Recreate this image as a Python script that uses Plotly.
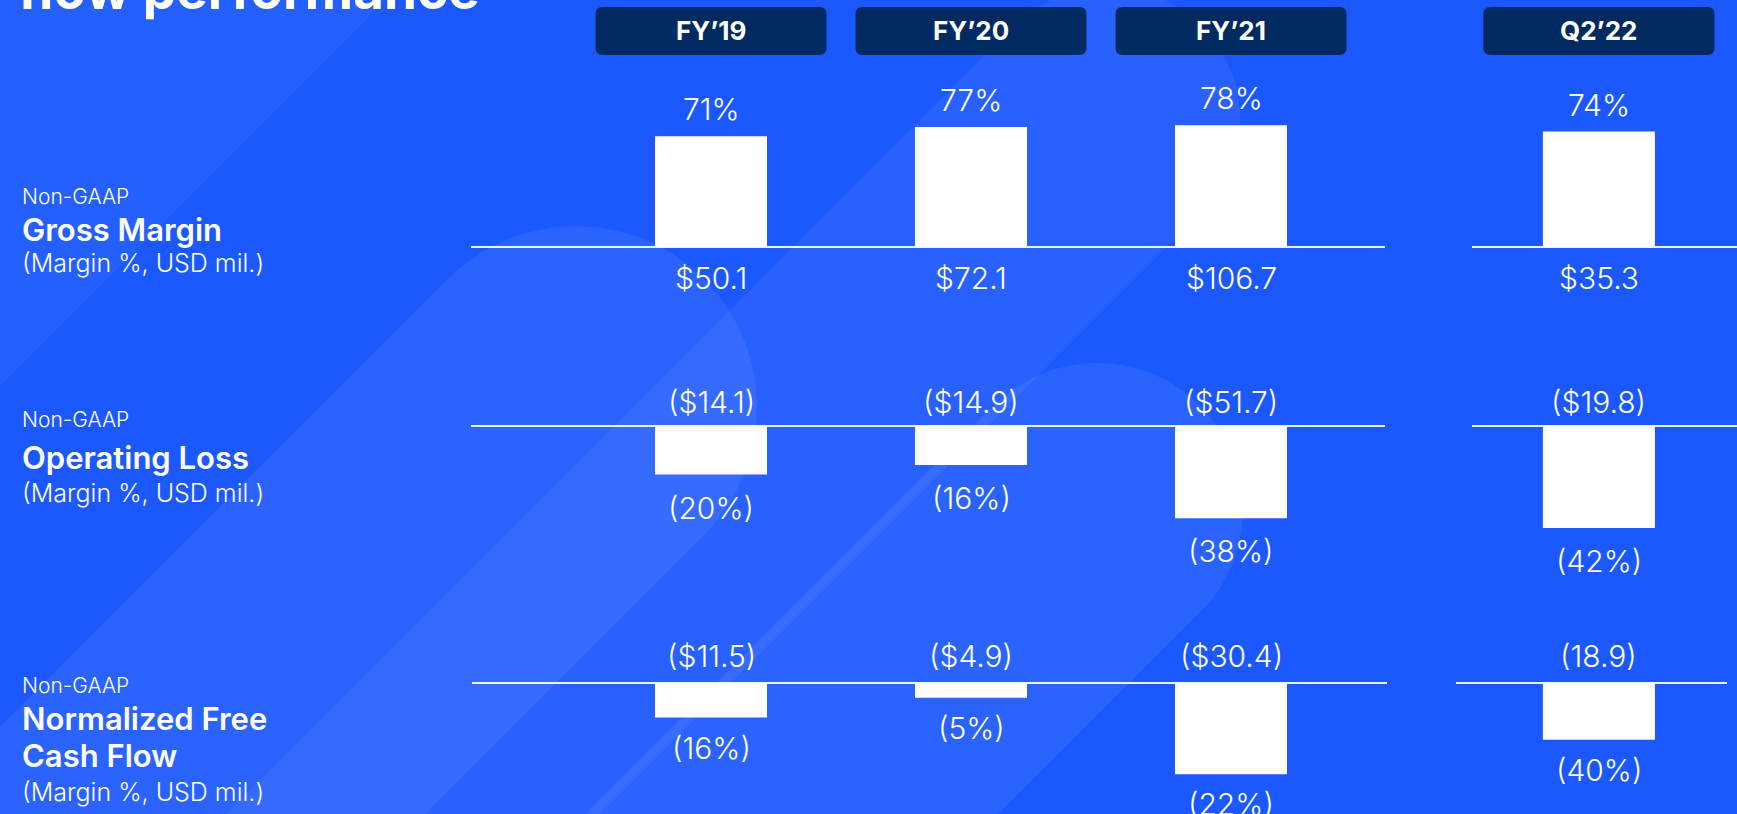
import numpy as np
import plotly.graph_objects as go

W, H = 1737, 814

# ---- data -------------------------------------------------------------
periods = ["FY’19", "FY’20", "FY’21", "Q2’22"]

gross_margin_pct = [71, 77, 78, 74]
gross_profit_usd = [50.1, 72.1, 106.7, 35.3]

op_loss_usd = [14.1, 14.9, 51.7, 19.8]
op_loss_pct = [20, 16, 38, 42]

fcf_usd = [11.5, 4.9, 30.4, 18.9]
fcf_pct = [16, 5, 22, 40]
fcf_currency = ["$", "$", "$", ""]

# ---- layout constants -------------------------------------------------
x_pos = [0, 1, 2, 3.415]          # slot of each period on the x axis
X_ORIGIN_PX, X_UNIT_PX = 711, 260  # pixel of x=0, pixels per x unit
BAR_W = 112 / X_UNIT_PX
BOX_W = 231 / X_UNIT_PX

BG = "#1b58ff"
NAVY = "#012a61"
WHITE = "#ffffff"
FONT = "Inter"


def px_to_paper(x, y):
    return x / W, 1 - y / H


def yrange(base_px, px_per_unit):
    return [-(H - base_px) / px_per_unit, base_px / px_per_unit]


# each metric row: its own y axis with zero on the row's baseline
rows = {
    "gm": dict(axis="y", base=247, scale=1.56),
    "ol": dict(axis="y2", base=426, scale=2.43),
    "fcf": dict(axis="y3", base=683, scale=3.0),
}

fig = go.Figure()

bar_style = dict(marker=dict(color=WHITE, line=dict(width=0)), width=BAR_W,
                 hoverinfo="skip", showlegend=False)

fig.add_trace(go.Bar(x=x_pos, y=gross_margin_pct, yaxis="y", **bar_style))
fig.add_trace(go.Bar(x=x_pos, y=[-v for v in op_loss_pct], yaxis="y2", **bar_style))
fig.add_trace(go.Bar(x=x_pos, y=[-v for v in fcf_usd], yaxis="y3", **bar_style))

annotations = []
num_font = dict(family=FONT, size=30, color=WHITE, weight=300)


def value_label(x, y, yref, text, shift):
    annotations.append(dict(x=x, y=y, xref="x", yref=yref, text=text,
                            showarrow=False, xanchor="center", yanchor="middle",
                            yshift=shift, font=num_font))


for i, x in enumerate(x_pos):
    # gross margin: % above the bar, dollars under the baseline
    value_label(x, gross_margin_pct[i], "y", f"{gross_margin_pct[i]}%", 27)
    value_label(x, 0, "y", f"${gross_profit_usd[i]:.1f}", -31)
    # operating loss: dollars above the baseline, % under the bar
    value_label(x, 0, "y2", f"(${op_loss_usd[i]:.1f})", 24)
    value_label(x, -op_loss_pct[i], "y2", f"({op_loss_pct[i]}%)", -33)
    # free cash flow
    value_label(x, 0, "y3", f"({fcf_currency[i]}{fcf_usd[i]:.1f})", 27)
    value_label(x, -fcf_usd[i], "y3", f"({fcf_pct[i]}%)", -30)

# ---- period header boxes ---------------------------------------------
shapes = []


def rounded_rect(x0, x1, y0, y1, rx, ry):
    return (f"M {x0 + rx},{y0} L {x1 - rx},{y0} Q {x1},{y0} {x1},{y0 + ry} "
            f"L {x1},{y1 - ry} Q {x1},{y1} {x1 - rx},{y1} L {x0 + rx},{y1} "
            f"Q {x0},{y1} {x0},{y1 - ry} L {x0},{y0 + ry} Q {x0},{y0} {x0 + rx},{y0} Z")


box_top, box_bot = 1 - 7 / H, 1 - 55 / H
for x, label in zip(x_pos, periods):
    shapes.append(dict(type="path", xref="x", yref="paper", layer="above",
                       path=rounded_rect(x - BOX_W / 2, x + BOX_W / 2, box_bot, box_top,
                                         7 / X_UNIT_PX, 7 / H),
                       fillcolor=NAVY, line=dict(width=0)))
    annotations.append(dict(x=x, y=1 - 31 / H, xref="x", yref="paper", text=f"<b>{label}</b>",
                            showarrow=False, xanchor="center", yanchor="middle",
                            font=dict(family=FONT, size=26, color=WHITE, weight=700)))

# ---- baselines ---------------------------------------------------------
baseline_segments = {
    "y": [(471, 1385), (1472, 1737)],
    "y2": [(471, 1385), (1472, 1737)],
    "y3": [(472, 1387), (1456, 1727)],
}
for yref, segs in baseline_segments.items():
    for a, b in segs:
        shapes.append(dict(type="line", xref="paper", yref=yref, x0=a / W, x1=b / W,
                           y0=0, y1=0, layer="below",
                           line=dict(color="rgba(255,255,255,0.92)", width=2)))

# ---- decorative light strokes in the background -----------------------


def capsule(cx, cy, r, length=1800, n=40):
    d = np.array([-1.0, 1.0]) / np.sqrt(2)      # runs down-left
    nrm = np.array([1.0, 1.0]) / np.sqrt(2)
    ang0 = np.arctan2(nrm[1], nrm[0])
    angs = np.linspace(ang0, ang0 - np.pi, n)    # cap facing up-right
    pts = [(cx + r * np.cos(a), cy + r * np.sin(a)) for a in angs]
    end = np.array([cx, cy]) + length * d
    pts.append(tuple(end - r * nrm))
    pts.append(tuple(end + r * nrm))
    p = [px_to_paper(x, y) for x, y in pts]
    return "M " + " L ".join(f"{x:.5f},{y:.5f}" for x, y in p) + " Z"


deco = [
    (capsule(576, 407, 181), 0.065),
    (capsule(1097, 509, 146), 0.07),
    (capsule(1108, 119, 132), 0.06),
]
tri = [px_to_paper(0, 0), px_to_paper(386, 0), px_to_paper(0, 386)]
deco.append(("M " + " L ".join(f"{x:.5f},{y:.5f}" for x, y in tri) + " Z", 0.045))
for path, op in deco:
    shapes.insert(0, dict(type="path", xref="paper", yref="paper", layer="below",
                          path=path, fillcolor=WHITE, opacity=op, line=dict(width=0)))

# ---- row titles on the left -------------------------------------------
light = dict(family=FONT, color=WHITE, weight=300)
bold = dict(family=FONT, color=WHITE, weight=600)
row_titles = [
    ("Non-GAAP", 196, 21, light), ("Gross Margin", 229, 31, bold),
    ("(Margin %, USD mil.)", 263, 25, light),
    ("Non-GAAP", 419, 21, light), ("Operating Loss", 457, 31, bold),
    ("(Margin %, USD mil.)", 493, 25, light),
    ("Non-GAAP", 685, 21, light), ("Normalized Free", 718, 31, bold),
    ("Cash Flow", 755, 31, bold), ("(Margin %, USD mil.)", 792, 25, light),
]
for text, ypx, size, f in row_titles:
    annotations.append(dict(x=20 / W, y=1 - ypx / H, xref="paper", yref="paper", text=text,
                            showarrow=False, xanchor="left", yanchor="middle",
                            font=dict(size=size, **f)))

# slide heading (last line, running off the top edge)
annotations.append(dict(x=16 / W, y=1 - 24 / H, xref="paper", yref="paper",
                        text="<b>flow performance</b>", showarrow=False,
                        xanchor="left", yanchor="bottom",
                        font=dict(family=FONT, size=53, color=WHITE, weight=700)))

x_range = [-X_ORIGIN_PX / X_UNIT_PX, (W - X_ORIGIN_PX) / X_UNIT_PX]
hidden = dict(visible=False, showgrid=False, zeroline=False, fixedrange=True)

fig.update_layout(
    width=W, height=H,
    margin=dict(l=0, r=0, t=0, b=0),
    paper_bgcolor=BG, plot_bgcolor=BG,
    barmode="overlay",
    showlegend=False, hovermode=False,
    xaxis=dict(range=x_range, domain=[0, 1], **hidden),
    yaxis=dict(range=yrange(rows["gm"]["base"], rows["gm"]["scale"]), domain=[0, 1], **hidden),
    yaxis2=dict(range=yrange(rows["ol"]["base"], rows["ol"]["scale"]), overlaying="y", **hidden),
    yaxis3=dict(range=yrange(rows["fcf"]["base"], rows["fcf"]["scale"]), overlaying="y", **hidden),
    shapes=shapes,
    annotations=annotations,
)

fig.write_html("out.html", config={"displayModeBar": False})
